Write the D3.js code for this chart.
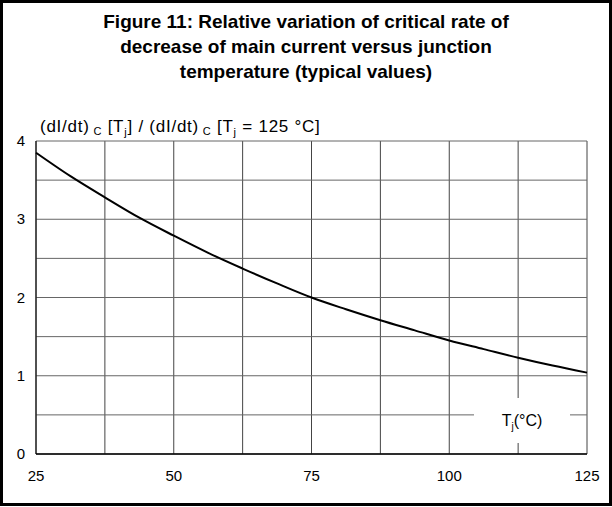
<!DOCTYPE html>
<html>
<head>
<meta charset="utf-8">
<script src="https://cdn.jsdelivr.net/npm/d3@7"></script>
<style>
  body { margin: 0; background: #fff; }
  text { font-family: "Liberation Sans", Arial, sans-serif; }
</style>
</head>
<body>
<div id="chart-area"></div>
<script>
// Relative variation of (dI/dt)c vs junction temperature
var tempValues = [25, 31.25, 37.5, 43.75, 50, 56.25, 62.5, 68.75, 75, 81.25, 87.5, 93.75, 100, 106.25, 112.5, 118.75, 125];
var ratioValues = [3.85, 3.55, 3.28, 3.02, 2.79, 2.57, 2.37, 2.18, 2.00, 1.85, 1.71, 1.58, 1.45, 1.34, 1.23, 1.13, 1.04];
var xTickLabels = [25, 50, 75, 100, 125];
var yTickLabels = [0, 1, 2, 3, 4];
var titleLines = [
  "Figure 11: Relative variation of critical rate of",
  "decrease of main current versus junction",
  "temperature (typical values)"
];

var width = 612, height = 507;
var svg = d3.select("#chart-area").append("svg")
    .attr("width", width)
    .attr("height", height);

// outer frame
svg.append("rect")
    .attr("x", 1.5).attr("y", 1.5)
    .attr("width", 609).attr("height", 503)
    .attr("fill", "none")
    .attr("stroke", "#000")
    .attr("stroke-width", 3);

svg.selectAll("text.title")
    .data(titleLines)
  .enter().append("text")
    .attr("class", "title")
    .attr("x", 306)
    .attr("y", function(d, i) { return 28 + i * 25; })
    .attr("text-anchor", "middle")
    .attr("font-size", 19)
    .attr("font-weight", "bold")
    .text(function(d) { return d; });

var x = d3.scaleLinear().domain([25, 125]).range([36, 587]);
var y = d3.scaleLinear().domain([0, 4]).range([454, 141]);

var g = svg.append("g");

// grid every 12.5 / 0.5
var xGrid = d3.range(25, 125.1, 12.5);
var yGrid = d3.range(0, 4.01, 0.5);

g.selectAll("line.vgrid")
    .data(xGrid)
  .enter().append("line")
    .attr("x1", function(d) { return x(d); })
    .attr("x2", function(d) { return x(d); })
    .attr("y1", y(0)).attr("y2", y(4))
    .attr("stroke", "#444")
    .attr("stroke-width", 1);

g.selectAll("line.hgrid")
    .data(yGrid)
  .enter().append("line")
    .attr("x1", x(25)).attr("x2", x(125))
    .attr("y1", function(d) { return y(d); })
    .attr("y2", function(d) { return y(d); })
    .attr("stroke", "#666")
    .attr("stroke-width", 1);

// axes lines
g.append("line")
    .attr("x1", x(25)).attr("x2", x(125))
    .attr("y1", y(0)).attr("y2", y(0))
    .attr("stroke", "#000").attr("stroke-width", 1.5);
g.append("line")
    .attr("x1", x(25)).attr("x2", x(25))
    .attr("y1", y(0)).attr("y2", y(4))
    .attr("stroke", "#000").attr("stroke-width", 1);

// tick labels
svg.selectAll("text.ylab")
    .data(yTickLabels)
  .enter().append("text")
    .attr("class", "ylab")
    .attr("x", 25)
    .attr("y", function(d) { return y(d) + 5; })
    .attr("text-anchor", "end")
    .attr("font-size", 15)
    .text(function(d) { return d; });

svg.selectAll("text.xlab")
    .data(xTickLabels)
  .enter().append("text")
    .attr("class", "xlab")
    .attr("x", function(d) { return x(d); })
    .attr("y", 481)
    .attr("text-anchor", "middle")
    .attr("font-size", 15)
    .text(function(d) { return d; });

// x axis title, white box breaks the grid
svg.append("rect")
    .attr("x", 474).attr("y", 398)
    .attr("width", 96).attr("height", 45)
    .attr("fill", "#fff");
var xt = svg.append("text")
    .attr("x", 522).attr("y", 426)
    .attr("text-anchor", "middle")
    .attr("font-size", 16);
xt.append("tspan").text("T");
xt.append("tspan").attr("font-size", 10).attr("dy", 4).text("j");
xt.append("tspan").attr("dy", -4).text("(°C)");

// y axis title
var yt = svg.append("text")
    .attr("x", 40).attr("y", 132)
    .attr("font-size", 17)
    .attr("letter-spacing", 0.75);
var parts = [
  ["(dI/dt)", 0], [" C", 1], [" [T", 0], ["j", 2], ["] / (dI/dt)", 0],
  [" C", 1], [" [T", 0], ["j", 2], [" = 125 °C]", 0]
];
var prev = 0;
parts.forEach(function(p) {
  var shift = p[1] == 1 ? 3 : (p[1] == 2 ? 4 : 0);
  yt.append("tspan")
    .attr("font-size", p[1] ? 11 : 17)
    .attr("dy", shift - prev)
    .text(p[0]);
  prev = shift;
});

// curve
var line = d3.line()
    .x(function(d, i) { return x(tempValues[i]); })
    .y(function(d) { return y(d); })
    .curve(d3.curveMonotoneX);

g.append("path")
    .datum(ratioValues)
    .attr("d", line)
    .attr("fill", "none")
    .attr("stroke", "#000")
    .attr("stroke-width", 2);
</script>
</body>
</html>
